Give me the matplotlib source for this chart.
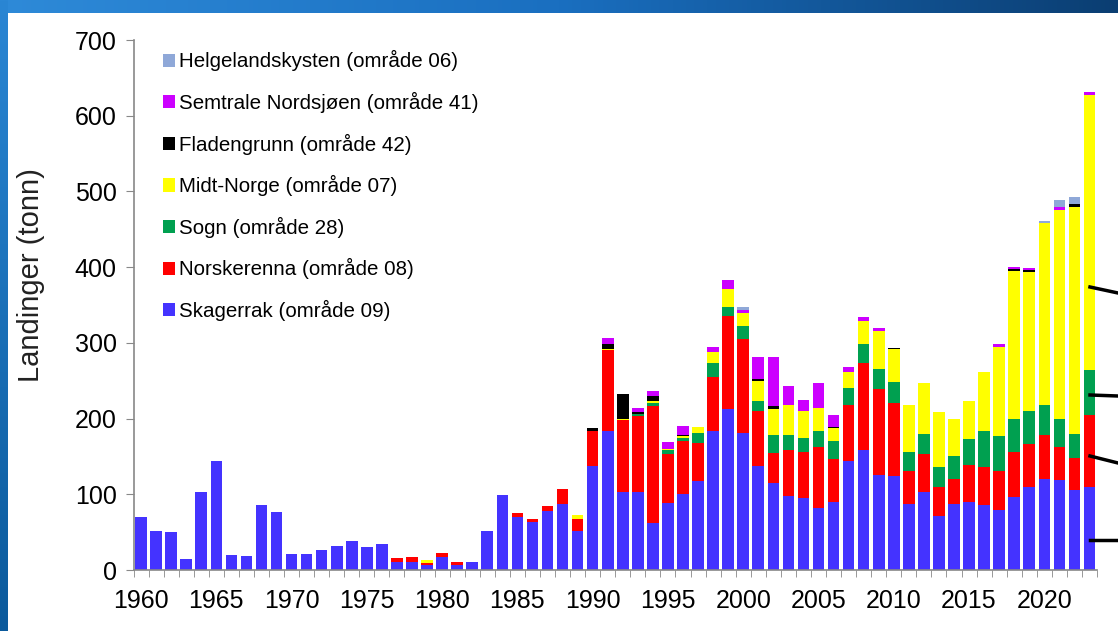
import numpy as np
import matplotlib
matplotlib.use('Agg')
from matplotlib import pyplot as plt
from matplotlib.patches import Rectangle
from matplotlib.lines import Line2D
from matplotlib.colors import LinearSegmentedColormap

plt.rcParams['font.family'] = ['Liberation Sans', 'DejaVu Sans']

years = list(range(1960, 2024))

# Landings per area, tonnes
skagerrak = [70, 52, 50, 14, 103, 144, 20, 19, 86, 77,
             21, 21, 26, 32, 38, 31, 34, 11, 11, 6,
             17, 7, 11, 52, 99, 70, 63, 78, 87, 52,
             138, 184, 103, 103, 62, 89, 101, 117, 184, 213,
             181, 137, 115, 98, 95, 82, 90, 144, 158, 126,
             124, 87, 103, 71, 87, 90, 86, 79, 96, 110,
             120, 119, 106, 110]
norskerenna = [0, 0, 0, 0, 0, 0, 0, 0, 0, 0,
               0, 0, 0, 0, 0, 0, 0, 5, 6, 3,
               5, 4, 0, 0, 0, 5, 4, 6, 20, 16,
               46, 106, 95, 100, 154, 64, 70, 51, 71, 123,
               124, 73, 40, 60, 61, 80, 56, 74, 115, 113,
               96, 44, 50, 38, 33, 49, 50, 52, 60, 57,
               58, 44, 42, 95]
sogn = [0] * 33 + [3, 4, 5, 4, 13, 18, 12,
                   17, 13, 23, 20, 18, 22, 24, 23, 26, 27,
                   28, 25, 27, 27, 30, 34, 48, 46, 44, 43,
                   40, 37, 32, 59]
midt_norge = [0] * 19 + [4] + [0] * 9 + [4,
              0, 2, 2, 0, 3, 2, 2, 8, 15, 23,
              17, 27, 34, 40, 36, 30, 18, 20, 30, 50,
              44, 62, 67, 73, 49, 50, 78, 117, 195, 184,
              240, 276, 300, 364]
fladengrunn = [0] * 30 + [4, 7, 32, 3, 7, 0, 1, 0, 0, 0,
                          0, 2, 4, 0, 0, 0, 1, 0, 0, 0,
                          1, 0, 0, 0, 0, 0, 0, 0, 2, 2,
                          0, 0, 3, 0]
sentrale_nordsjoen = [0] * 31 + [8, 0, 5, 7, 9, 12, 0, 7, 12,
                                 5, 29, 65, 25, 15, 33, 16, 7, 5, 4,
                                 0, 0, 0, 0, 0, 0, 0, 4, 3, 3,
                                 0, 3, 0, 3]
helgeland = [0] * 40 + [3] + [0] * 19 + [3, 10, 9, 0]

series = [
    ('Skagerrak (område 09)', skagerrak, '#4433FF'),
    ('Norskerenna (område 08)', norskerenna, '#FF0000'),
    ('Sogn (område 28)', sogn, '#00A050'),
    ('Midt-Norge (område 07)', midt_norge, '#FFFF00'),
    ('Fladengrunn (område 42)', fladengrunn, '#000000'),
    ('Semtrale Nordsjøen (område 41)', sentrale_nordsjoen, '#CC00FF'),
    ('Helgelandskysten (område 06)', helgeland, '#8FA8D8'),
]

W, H = 1118, 631
fig = plt.figure(figsize=(W / 100, H / 100), dpi=100)
fig.patch.set_facecolor('white')

# slide frame: gradient band on top, strip on the left
top = fig.add_axes([0, 1 - 13 / H, 1, 13 / H])
top.imshow(np.linspace(0, 1, 256)[None, :], aspect='auto', extent=[0, 1, 0, 1],
           cmap=LinearSegmentedColormap.from_list('t', ['#2E8AD8', '#1A6FC0', '#0B3E72']))
top.axis('off')
left = fig.add_axes([0, 0, 8 / W, 1])
left.imshow(np.linspace(0, 1, 256)[:, None], aspect='auto', extent=[0, 1, 0, 1],
            cmap=LinearSegmentedColormap.from_list('l', ['#2A86D4', '#0B5A9C']))
left.axis('off')

ax = fig.add_axes([133.5 / W, 61 / H, (1097 - 133.5) / W, 530 / H])
x = np.arange(len(years))
bottom = np.zeros(len(years))
handles = []
for name, vals, col in series:
    vals = np.array(vals, dtype=float)
    ax.bar(x, vals, width=0.77, bottom=bottom, color=col, linewidth=0)
    bottom += vals
    handles.append(Rectangle((0, 0), 1, 1, facecolor=col, edgecolor='none', label=name))

ax.set_xlim(-0.5, len(years) - 0.5)
ax.set_ylim(0, 700)
ax.set_yticks(range(0, 701, 100))
label_pos = [i for i, y in enumerate(years) if y % 5 == 0]
ax.set_xticks(label_pos)
ax.set_xticklabels([str(years[i]) for i in label_pos])
ax.set_xticks(np.arange(-0.5, len(years)), minor=True)
ax.tick_params(axis='x', which='major', length=0, labelsize=18, pad=14)
ax.tick_params(axis='x', which='minor', length=5, color='#888888', direction='out')
ax.tick_params(axis='y', length=6, color='#888888', labelsize=18, pad=6)
for s in ['top', 'right']:
    ax.spines[s].set_visible(False)
for s in ['left', 'bottom']:
    ax.spines[s].set_color('#888888')
    ax.spines[s].set_linewidth(1.2)
fig.text(31 / W, 1 - 275 / H, 'Landinger (tonn)', fontsize=21, rotation=90,
         ha='center', va='center', color='#222222')

leg = ax.legend(handles=handles[::-1], loc='upper left', bbox_to_anchor=(0.022, 0.996),
                frameon=False, fontsize=14.8, handlelength=0.6, handleheight=0.6,
                handletextpad=0.2, labelspacing=1.0, borderaxespad=0)

# pointer lines from the slide on the right
for (x0, y0), (x1, y1) in [((1090, 287), (1118, 293)), ((1090, 395), (1118, 396)),
                           ((1090, 456), (1118, 463)), ((1090, 540), (1118, 540))]:
    fig.add_artist(Line2D([x0 / W, x1 / W], [1 - y0 / H, 1 - y1 / H], color='black',
                          linewidth=2.5, transform=fig.transFigure))

fig.savefig('out.png', dpi=100)
